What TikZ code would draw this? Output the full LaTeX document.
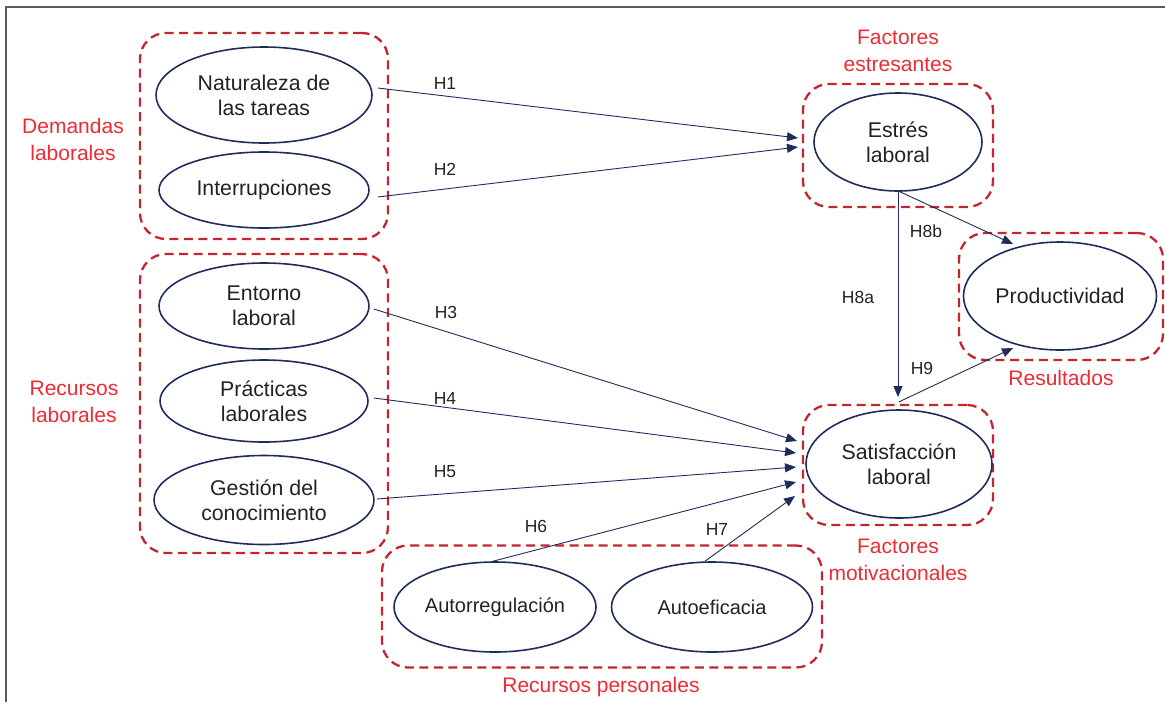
\documentclass[tikz,border=0pt]{standalone}
\usepackage{fontspec}
\setmainfont{Liberation Sans}
\usetikzlibrary{shapes.geometric,arrows.meta}
\definecolor{navy}{HTML}{1F2D5C}
\definecolor{boxred}{HTML}{C42530}
\definecolor{labred}{HTML}{EC2B33}
\definecolor{ink}{HTML}{222222}
\definecolor{frame}{HTML}{5A5A5A}
\tikzset{
  construct/.style={ellipse, draw=navy, line width=1.6pt, inner sep=0pt,
    text=ink, align=center, font=\fontsize{21.3}{25}\selectfont},
  grp/.style={draw=boxred, line width=2.3pt, dash pattern=on 9pt off 5.5pt,
    rounded corners=26pt, inner sep=0pt},
  grplabel/.style={text=labred, align=center, font=\fontsize{21}{27}\selectfont},
  hyp/.style={text=ink, font=\fontsize{17.5}{20}\selectfont},
  path/.style={draw=navy, line width=0.9pt,
    -{Triangle[length=11pt,width=9pt]}},
}
\begin{document}
\begin{tikzpicture}[x=1pt, y=-1pt]
\useasboundingbox (0,0) rectangle (1165,702);
% outer frame (top and left rules)
\draw[frame, line width=1.3pt] (6,702) -- (6,7) -- (1165,7);

% group boxes
\node[grp, minimum width=248, minimum height=206] (gDem) at (264,136) {};
\node[grp, minimum width=248, minimum height=299] (gRec) at (264,403.5) {};
\node[grp, minimum width=190, minimum height=123] (gEst) at (898,145.5) {};
\node[grp, minimum width=204, minimum height=127] (gRes) at (1061,296.5) {};
\node[grp, minimum width=190, minimum height=120] (gSat) at (898,465) {};
\node[grp, minimum width=440, minimum height=122] (gPer) at (602,606.5) {};

% group labels
\node[grplabel] (lDem) at (73,139) {Demandas\\laborales};
\node[grplabel] (lRec) at (74,402) {Recursos\\laborales};
\node[grplabel] (lEst) at (898,50.5) {Factores\\estresantes};
\node[grplabel] (lRes) at (1061,378) {Resultados};
\node[grplabel] (lSat) at (898,559.5) {Factores\\motivacionales};
\node[grplabel] (lPer) at (601,687) {Recursos personales};

% constructs
\node[construct, minimum width=216, minimum height=96] (nat) at (264,95) {Naturaleza de\\las tareas};
\node[construct, minimum width=210, minimum height=76] (int) at (264,190) {Interrupciones};
\node[construct, minimum width=210, minimum height=86] (ent) at (264,306) {Entorno\\laboral};
\node[construct, minimum width=208, minimum height=82] (pra) at (264,401) {Prácticas\\laborales};
\node[construct, minimum width=220, minimum height=89] (ges) at (264,500) {Gestión del\\conocimiento};
\node[construct, minimum width=168, minimum height=98] (est) at (898,142) {Estrés\\laboral};
\node[construct, minimum width=193, minimum height=108] (pro) at (1060,296) {Productividad};
\node[construct, minimum width=186, minimum height=108] (sat) at (899,464) {Satisfacción\\laboral};
\node[construct, minimum width=202, minimum height=90, font=\fontsize{20}{24}\selectfont] (aur) at (495,607) {Autorregulación};
\node[construct, minimum width=201, minimum height=90, font=\fontsize{20}{24}\selectfont] (aef) at (712,607) {Autoeficacia};

% arrow targets in front of the outcome boxes
\coordinate (tE1) at (798,138);
\coordinate (tE2) at (798,147);
\coordinate (tS3) at (797,441);
\coordinate (tS4) at (796,453);
\coordinate (tS5) at (796,467);
\coordinate (tS6) at (796,482);
\coordinate (tS7) at (795,496);
\coordinate (tS8) at (898,397);
\coordinate (tP8) at (1013,244);
\coordinate (tP9) at (1013,348);

% hypothesised paths
\draw[path] ([shift={(5,-7)}]nat.east) -- (tE1);
\draw[path] ([shift={(8,7)}]int.east) -- (tE2);
\draw[path] ([shift={(4,3)}]ent.east) -- (tS3);
\draw[path] ([shift={(5,-3)}]pra.east) -- (tS4);
\draw[path] ([shift={(2,-1)}]ges.east) -- (tS5);
\draw[path] ([shift={(-2,0)}]aur.north) -- (tS6);
\draw[path] ([shift={(-7,0)}]aef.north) -- (tS7);
\draw[path] (est.south) -- (tS8);
\draw[path] ([shift={(2,0)}]est.south) -- (tP8);
\draw[path] ([shift={(1,-2)}]gSat.north) -- (tP9);

% path labels
\node[hyp] (h1) at (445,83) {H1};
\node[hyp] (h2) at (445,169) {H2};
\node[hyp] (h3) at (446,312) {H3};
\node[hyp] (h4) at (445,398) {H4};
\node[hyp] (h5) at (445,472) {H5};
\node[hyp] (h6) at (536,526) {H6};
\node[hyp] (h7) at (717,529) {H7};
\node[hyp] (h8a) at (858,297) {H8a};
\node[hyp] (h8b) at (926,231) {H8b};
\node[hyp] (h9) at (922,368) {H9};
\end{tikzpicture}
\end{document}
